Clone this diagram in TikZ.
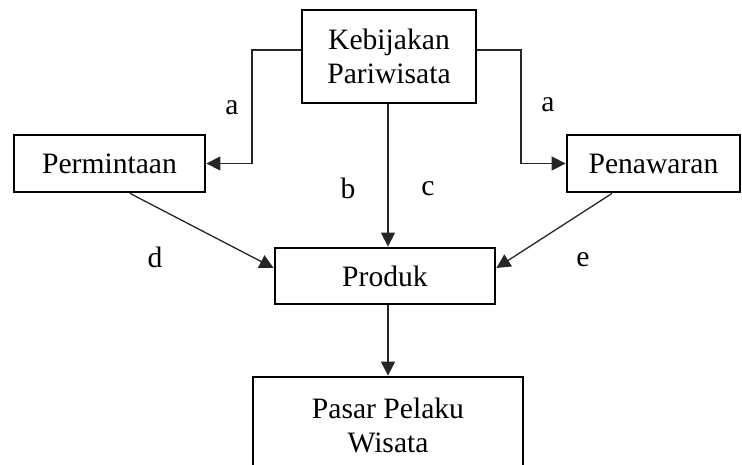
\documentclass[tikz,border=0pt]{standalone}
\usepackage{fontspec}
\setmainfont{Liberation Serif}
\usetikzlibrary{arrows.meta,calc}
\begin{document}
\begin{tikzpicture}[x=1pt,y=-1pt,
  box/.style={draw=black,line width=2.8pt,fill=white,inner sep=0pt,align=center,
    font=\fontsize{29.6}{34}\selectfont},
  conn/.style={draw=black!85,line width=1.3pt,
    -{Triangle[length=14pt,width=14pt]}},
  lbl/.style={font=\fontsize{29.6}{34}\selectfont,inner sep=0pt}]
  \useasboundingbox (0,0) rectangle (742,464);
  \clip (0,0) rectangle (742,464);

  % boxes
  \node[box,minimum width=174pt,minimum height=93pt] (keb) at (389,56.5) {Kebijakan\\Pariwisata};
  \node[box,minimum width=191pt,minimum height=57pt] (perm) at (109.5,163.5) {Permintaan};
  \node[box,minimum width=173pt,minimum height=57pt] (pen) at (653.5,163.5) {Penawaran};
  \node[box,minimum width=220pt,minimum height=56pt] (prod) at (385,276) {Produk};
  \node[box,minimum width=270pt,minimum height=96pt] (pasar) at (388,425) {Pasar Pelaku\\Wisata};

  % connectors from the policy box
  \draw[conn] (keb.west |- 0,50) -- (252,50) -- (252,163.5) -- (perm.east);
  \draw[conn] (keb.east |- 0,50) -- (521,50) -- (521,163.5) -- (pen.west);
  \draw[conn] (keb.south -| 388,0) -- (prod.north -| 388,0);

  % supply and demand into the product
  \draw[conn] (perm.south -| 130,0) -- (prod.west |- 0,268);
  \draw[conn] (pen.south -| 612,0) -- (prod.east |- 0,268);

  % product to market
  \draw[conn] (prod.south -| 388,0) -- (pasar.north -| 388,0);

  % labels
  \node[lbl] (la1) at (232,108) {a};
  \node[lbl] (la2) at (548,105) {a};
  \node[lbl] (lb) at (348,188) {b};
  \node[lbl] (lc) at (428,189) {c};
  \node[lbl] (ld) at (155,257) {d};
  \node[lbl] (le) at (583,260) {e};
\end{tikzpicture}
\end{document}
